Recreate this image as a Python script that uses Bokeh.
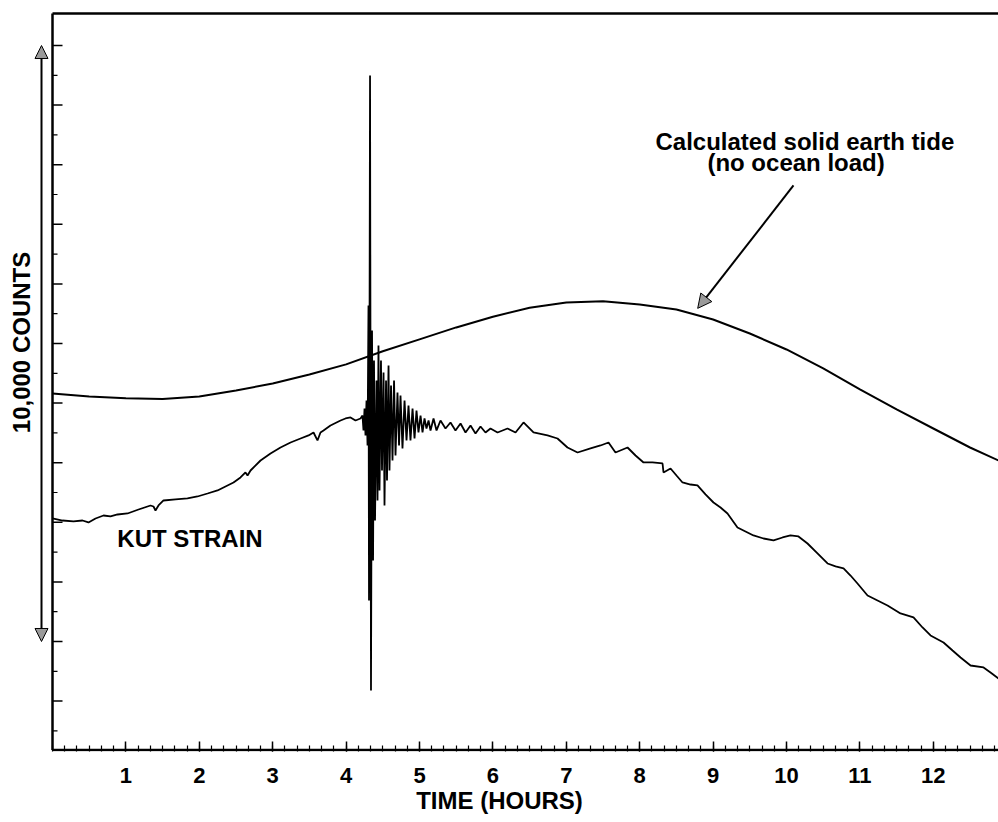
import math
from bokeh.plotting import figure
from bokeh.models import Range1d, FixedTicker, Label, Arrow, NormalHead
from bokeh.embed import file_html
from bokeh.resources import INLINE

# ---------------- data (hours, counts) ----------------
tide_hours = [0.0, 0.5, 1.0, 1.5, 2.0, 2.5, 3.0, 3.5, 4.0, 4.5, 5.0, 5.5, 6.0, 6.5,
              7.0, 7.5, 8.0, 8.5, 9.0, 9.5, 10.0, 10.5, 11.0, 11.5, 12.0, 12.5, 12.888]
tide_counts = [4160, 4110, 4080, 4070, 4110, 4210, 4330, 4480, 4650, 4870, 5070, 5270, 5450, 5600,
               5690, 5710, 5655, 5571, 5403, 5168, 4900, 4581, 4229, 3893, 3574, 3255, 3037]

strain_hours = [
    0.000, 0.136, 0.286, 0.409, 0.490, 0.586, 0.695, 0.790, 0.886, 1.022,
    1.172, 1.335, 1.376, 1.403, 1.444, 1.512, 1.676, 1.839, 1.975, 2.112,
    2.248, 2.357, 2.466, 2.561, 2.629, 2.657, 2.698, 2.834, 2.970, 3.106,
    3.243, 3.379, 3.488, 3.556, 3.610, 3.651, 3.692, 3.787, 3.924, 3.992,
    4.060, 4.128, 4.196, 4.223, 4.237, 4.251, 4.264, 4.278, 4.292, 4.305,
    4.312, 4.326, 4.339, 4.353, 4.367, 4.380, 4.394, 4.414, 4.428, 4.441,
    4.455, 4.475, 4.489, 4.510, 4.523, 4.544, 4.557, 4.578, 4.591, 4.612,
    4.632, 4.653, 4.673, 4.700, 4.721, 4.741, 4.768, 4.796, 4.823, 4.850,
    4.877, 4.905, 4.932, 4.959, 4.986, 5.014, 5.041, 5.068, 5.095, 5.123,
    5.150, 5.191, 5.232, 5.286, 5.354, 5.422, 5.490, 5.559, 5.627, 5.695,
    5.763, 5.831, 5.899, 5.967, 6.063, 6.199, 6.308, 6.417, 6.553, 6.744,
    6.880, 7.016, 7.153, 7.330, 7.466, 7.575, 7.670, 7.834, 7.943, 8.052,
    8.174, 8.311, 8.324, 8.420, 8.501, 8.583, 8.692, 8.787, 8.896, 9.005,
    9.101, 9.196, 9.332, 9.441, 9.550, 9.687, 9.823, 9.946, 10.054, 10.163,
    10.286, 10.422, 10.559, 10.668, 10.777, 10.872, 10.967, 11.104, 11.240, 11.376,
    11.553, 11.730, 11.853, 11.962, 12.139, 12.262, 12.371, 12.507, 12.684, 12.779,
    12.888]
strain_counts = [
    2064, 2030, 2014, 2030, 1997, 2064, 2114, 2098, 2131, 2148,
    2215, 2282, 2265, 2198, 2282, 2366, 2383, 2400, 2433, 2483,
    2534, 2601, 2668, 2752, 2836, 2785, 2869, 3037, 3155, 3255,
    3339, 3406, 3457, 3507, 3373, 3507, 3541, 3624, 3708, 3742,
    3759, 3708, 3742, 3792, 3541, 3910, 3457, 4044, 3289, 5638,
    688, 9497, -822, 5219, 1359, 4715, 2030, 4380, 2366, 4967,
    2534, 4715, 2869, 4514, 2282, 4380, 2702, 4631, 2869, 4296,
    3037, 4380, 3121, 4178, 3289, 4128, 3239, 4044, 3373, 3960,
    3373, 3910, 3406, 3876, 3507, 3792, 3507, 3742, 3574, 3708,
    3541, 3742, 3541, 3708, 3574, 3675, 3541, 3658, 3507, 3624,
    3490, 3608, 3507, 3574, 3507, 3574, 3507, 3675, 3507, 3457,
    3406, 3255, 3171, 3239, 3289, 3339, 3171, 3255, 3121, 3004,
    3004, 2987, 2836, 2903, 2785, 2668, 2634, 2618, 2467, 2332,
    2249, 2148, 1913, 1846, 1779, 1728, 1695, 1745, 1779, 1762,
    1644, 1477, 1309, 1259, 1225, 1107, 973, 772, 688, 604,
    470, 403, 235, 101, -17, -151, -268, -403, -436, -520,
    -621]

hour_ticks = [1, 2, 3, 4, 5, 6, 7, 8, 9, 10, 11, 12]
count_ticks = [-1000, 0, 1000, 2000, 3000, 4000, 5000, 6000, 7000, 8000, 9000, 10000]
count_minor = [-1500, -500, 500, 1500, 2500, 3500, 4500, 5500, 6500, 7500, 8500, 9500]
hour_minor = [i / 6 for i in range(0, 78)]
span_arrow = [0, 10000]          # the "10,000 counts" scale bar

FONT = "Liberation Sans"

X0, X1 = -0.7085, 12.888
Y0, Y1 = -1846, 10571
FW, FH = 998, 740
px_h = FW / (X1 - X0)     # pixels per hour
px_c = FH / (Y1 - Y0)     # pixels per count

p = figure(frame_width=FW, frame_height=FH,
           x_range=Range1d(X0, X1), y_range=Range1d(Y0, Y1),
           y_axis_location=None,
           output_backend="svg", toolbar_location=None,
           min_border_left=0, min_border_top=11, min_border_right=0, min_border_bottom=0)
p.outline_line_color = None
p.grid.visible = False
p.background_fill_color = "white"
p.border_fill_color = "white"

xa = p.xaxis[0]
xa.ticker = FixedTicker(ticks=hour_ticks, minor_ticks=hour_minor)
xa.axis_line_color = None
xa.major_tick_in = 10
xa.major_tick_out = 0
xa.minor_tick_in = 6
xa.minor_tick_out = 0
xa.major_tick_line_width = 1.5
xa.minor_tick_line_width = 1.2
xa.major_label_text_font = FONT
xa.major_label_text_font_style = "bold"
xa.major_label_text_font_size = "22px"
xa.major_label_text_color = "black"
xa.major_label_standoff = 16
xa.axis_label = "TIME (HOURS)"
xa.axis_label_text_font = FONT
xa.axis_label_text_font_style = "bold"
xa.axis_label_text_font_size = "24px"
xa.axis_label_text_color = "black"
xa.axis_label_standoff = 1

# frame lines: left axis, bottom axis, top border (no right border in the original)
y_bot_line = Y0 + 1.5 / px_c
y_top_line = Y1 - 2.0 / px_c
p.segment(x0=[0, 0, 0], y0=[y_bot_line, y_bot_line, y_top_line],
          x1=[0, X1, X1], y1=[y_top_line, y_bot_line, y_top_line],
          line_color="black", line_width=2.5)
# left-axis ticks (pointing inward)
p.segment(x0=[0] * len(count_ticks), y0=count_ticks,
          x1=[10 / px_h] * len(count_ticks), y1=count_ticks,
          line_color="black", line_width=1.5)
p.segment(x0=[0] * len(count_minor), y0=count_minor,
          x1=[5 / px_h] * len(count_minor), y1=count_minor,
          line_color="black", line_width=1.2)

p.line(tide_hours, tide_counts, line_color="black", line_width=2)
p.line(strain_hours, strain_counts, line_color="black", line_width=1.8)

# annotation arrow to tide curve
p.add_layout(Arrow(x_start=10.095, y_start=7652, x_end=8.79, y_end=5590,
                   line_color="black", line_width=2,
                   end=NormalHead(size=14, fill_color="#9a9a9a", line_color="black", line_width=1)))
# 10,000 counts double arrow (left margin)
xa_bar = -11 / px_h
p.add_layout(Arrow(x_start=xa_bar, y_start=span_arrow[0], x_end=xa_bar, y_end=span_arrow[1],
                   line_color="black", line_width=2,
                   start=NormalHead(size=13, fill_color="#9a9a9a", line_color="black", line_width=1),
                   end=NormalHead(size=13, fill_color="#9a9a9a", line_color="black", line_width=1)))

def lab(x, y, t, size, angle=0.0):
    p.add_layout(Label(x=x, y=y, text=t, angle=angle, text_font=FONT, text_font_style="bold",
                       text_font_size=size, text_color="black",
                       text_align="center", text_baseline="middle"))

lab(10.25, 8390, "Calculated solid earth tide", "24px")
lab(10.13, 8038, "(no ocean load)", "24px")
lab(1.873, 1728, "KUT STRAIN", "24px")
lab(-31 / px_h, 5017, "10,000 COUNTS", "24px", angle=math.pi / 2)

open("out.html", "w").write(file_html(p, INLINE))
